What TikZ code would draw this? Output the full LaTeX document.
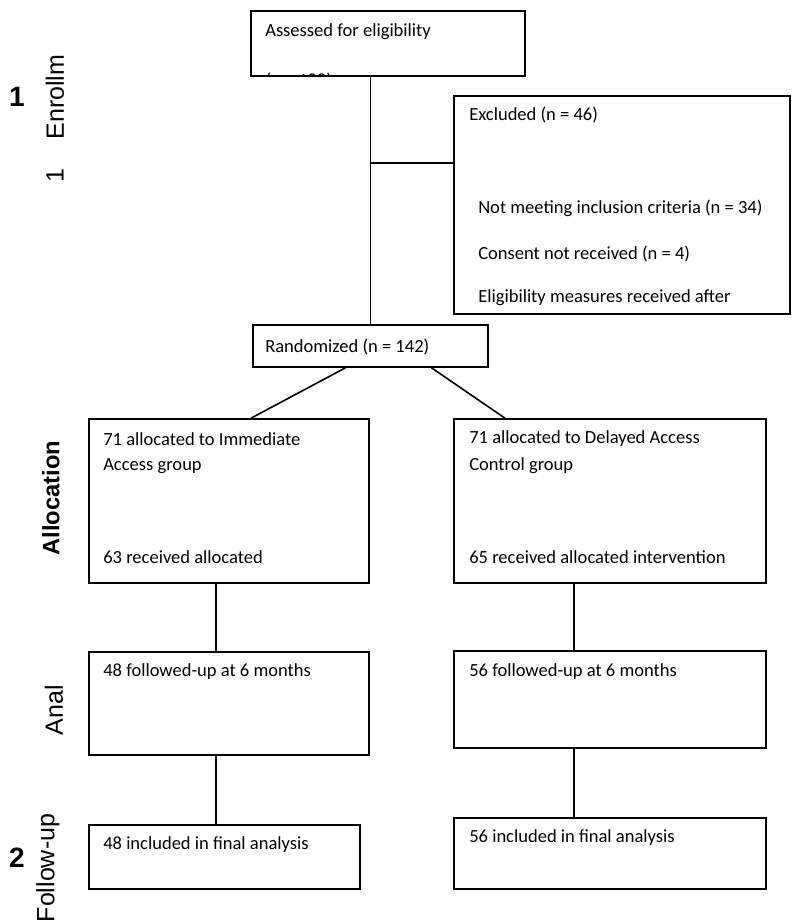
\documentclass[tikz,border=0pt]{standalone}
\usepackage{fontspec}
\setmainfont{Carlito}
\newfontfamily\arialfont{Liberation Sans}
\usetikzlibrary{fit,calc}
\tikzset{
  box/.style={draw, line width=1.2pt, inner sep=0pt},
  txt/.style={anchor=west, inner sep=0pt, font=\fontsize{13.9}{16}\selectfont},
  side/.style={rotate=90, inner sep=0pt, font=\arialfont\fontsize{18.75}{22}\selectfont},
  sidebf/.style={rotate=90, inner sep=0pt, font=\arialfont\bfseries\fontsize{17.8}{21}\selectfont},
  num/.style={inner sep=0pt, font=\arialfont\bfseries\fontsize{21}{24}\selectfont},
  link/.style={line width=1.2pt}
}
\begin{document}
\begin{tikzpicture}[x=0.75pt,y=-0.75pt]
\useasboundingbox (0,0) rectangle (800,923);
% stage labels
\node[num] (n1) at (17,97) {1};
\node[side] (enrol) at (55,97) {Enrollm};
\node[side] (enrolb) at (55,176) {1};
\node[sidebf] (alloc) at (51,498) {Allocation};
\node[side] (anal) at (54,710) {Anal};
\node[num] (n2) at (17,858) {2};
\node[side] (follow) at (48,868) {Follow-up};
% boxes
\node[box, fit={(251,11) (525,76)}] (assess) {};
\node[box, fit={(454,96) (790,314)}] (excl) {};
\node[box, fit={(253,325) (488,367)}] (rand) {};
\node[box, fit={(89,419) (369,583)}] (immed) {};
\node[box, fit={(454,419) (766,583)}] (delay) {};
\node[box, fit={(89,652) (369,755)}] (fupl) {};
\node[box, fit={(454,651) (766,748)}] (fupr) {};
\node[box, fit={(89,825) (360,889)}] (finl) {};
\node[box, fit={(454,818) (766,889)}] (finr) {};
% texts
\node[txt] (assesst) at (265,32) {Assessed for eligibility};
\begin{scope}
\clip (assess.north west) rectangle (assess.south east);
\node[txt] (assessn) at (265,81) {(n = 188)};
\end{scope}
\node[txt] (exclt) at (469,115) {Excluded (n = 46)};
\node[txt] (excla) at (478,208) {Not meeting inclusion criteria (n = 34)};
\node[txt] (exclb) at (478,254) {Consent not received (n = 4)};
\node[txt] (exclc) at (478,298) {Eligibility measures received after};
\node[txt] (randt) at (265,347) {Randomized (n = 142)};
\node[txt] (immeda) at (103,439) {71 allocated to Immediate};
\node[txt] (immedb) at (103,466) {Access group};
\node[txt] (immedc) at (103,557) {63 received allocated};
\node[txt] (delaya) at (469,439) {71 allocated to Delayed Access};
\node[txt] (delayb) at (469,466) {Control group};
\node[txt] (delayc) at (469,557) {65 received allocated intervention};
\node[txt] (fuplt) at (103,672) {48 followed-up at 6 months};
\node[txt] (fuprt) at (469,672) {56 followed-up at 6 months};
\node[txt] (finlt) at (103,845) {48 included in final analysis};
\node[txt] (finrt) at (469,838) {56 included in final analysis};
% connectors
\draw[link] (assess.south -| rand.north) -- (rand.north);
\coordinate (junc) at (370,163);
\draw[link] (junc) -- (junc -| excl.west);
\draw[link] ($(rand.south)+(-25,0)$) -- ($(immed.north)+(22,0)$);
\draw[link] ($(rand.south)+(61,0)$) -- ($(delay.north)+(-105,0)$);
\draw[link] ($(immed.south)+(-13,0)$) -- ($(fupl.north)+(-13,0)$);
\draw[link] ($(delay.south)+(-36,0)$) -- ($(fupr.north)+(-36,0)$);
\draw[link] ($(fupl.south)+(-13,0)$) -- ($(finl.north)+(-8.5,0)$);
\draw[link] ($(fupr.south)+(-36,0)$) -- ($(finr.north)+(-36,0)$);
\end{tikzpicture}
\end{document}
